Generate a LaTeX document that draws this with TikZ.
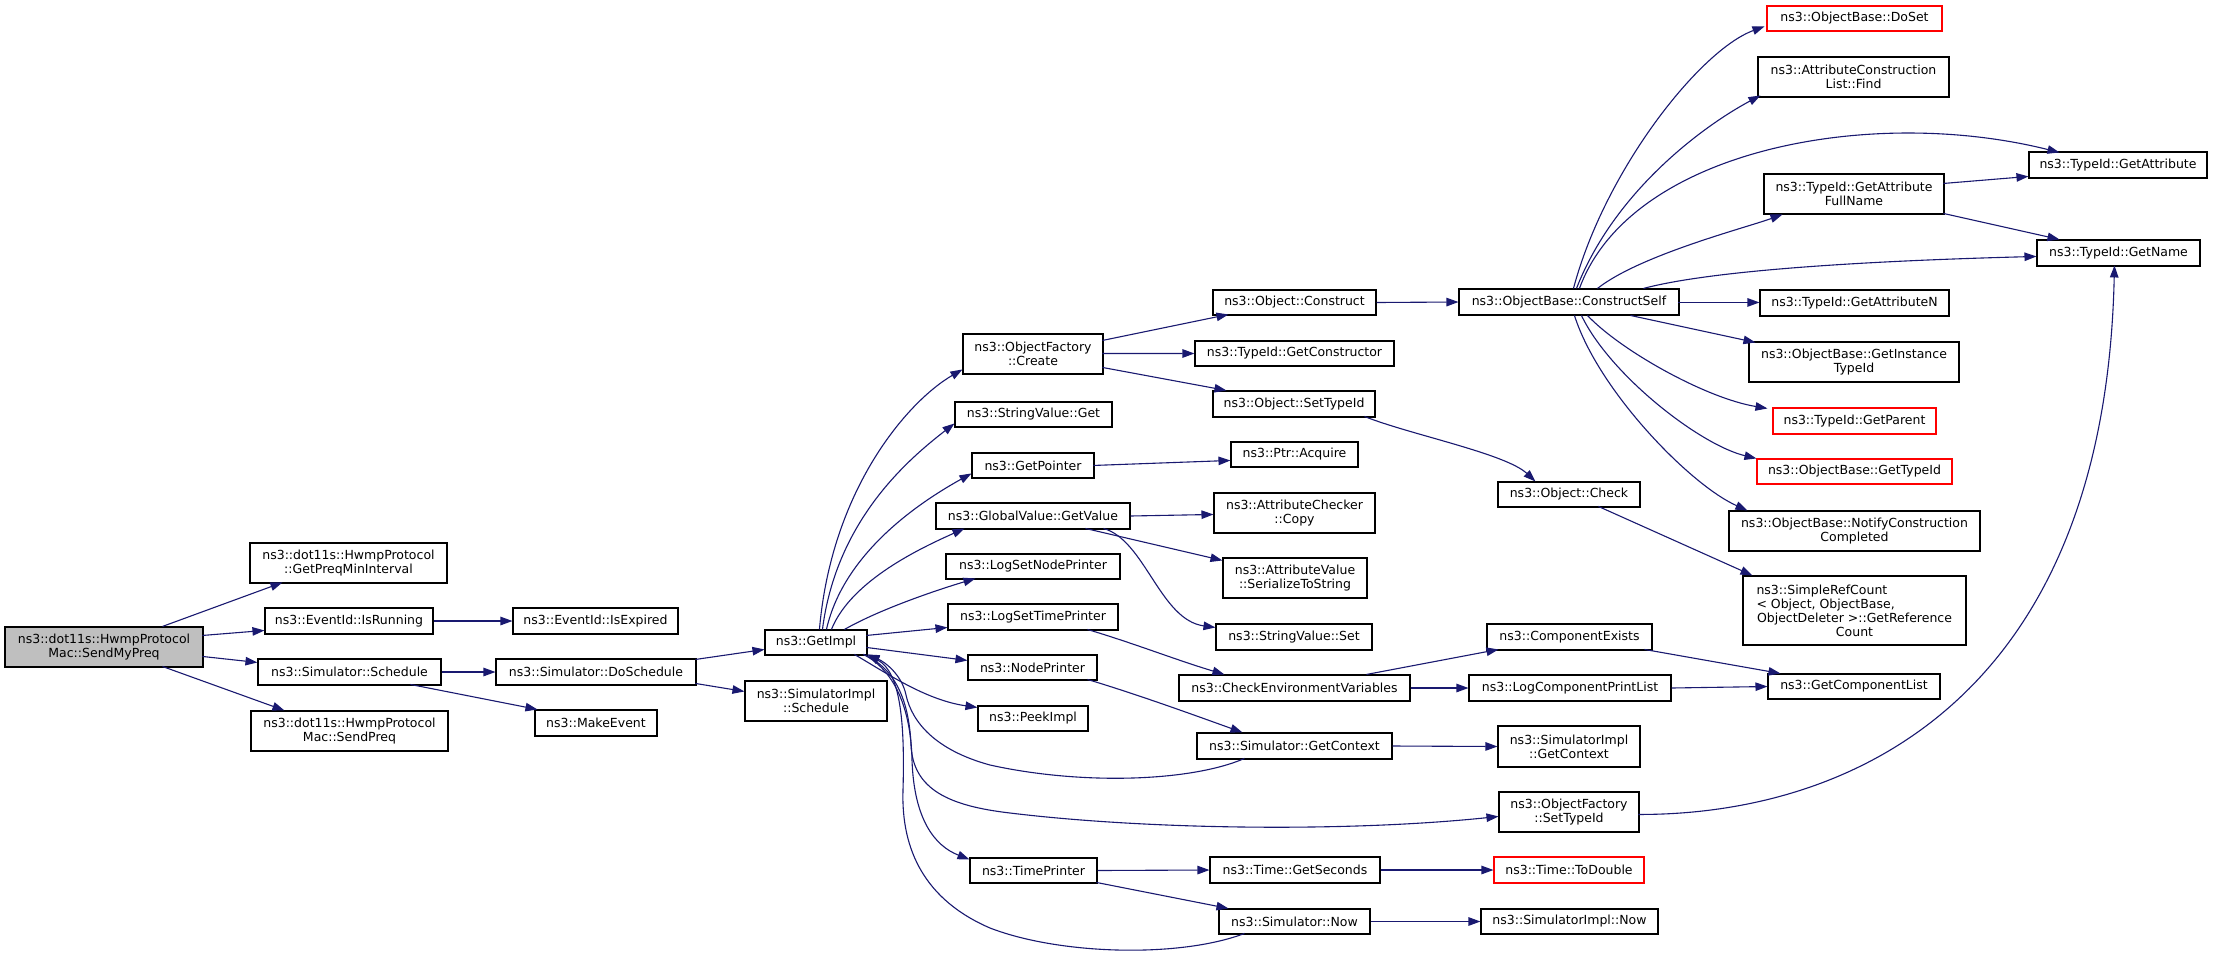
\documentclass[tikz,border=0pt]{standalone}
\usepackage{fontspec}
\setmainfont{DejaVu Sans}
\usetikzlibrary{arrows.meta,calc}
\definecolor{edgec}{HTML}{191970}
\definecolor{grayfill}{HTML}{BFBFBF}
\definecolor{redbox}{HTML}{FF0000}
\newcommand\bx[7]{\node[nd,#6,minimum width={#4-#2},minimum height={#5-#3}] (#1) at ({(#2+#4)/2},{(#3+#5)/2}) {#7};}
\begin{document}
\begin{tikzpicture}[x=1pt,y=-1pt,
  nd/.style={draw=black,line width=1.1pt,fill=white,inner sep=0pt,align=center,font=\fontsize{12.5}{14}\selectfont},
  rednd/.style={draw=redbox},
  graynd/.style={fill=grayfill},
  plainnd/.style={},
  cedge/.style={draw=edgec,line width=1.1pt,-{Triangle[length=12pt,width=8.5pt]}}]
\useasboundingbox[fill=white] (0,0) rectangle (2213,956);
% nodes
\bx{SendMyPreq}{5}{627}{203}{667}{graynd}{ns3::dot11s::HwmpProtocol\\Mac::SendMyPreq}
\bx{GPMI}{250}{543}{447}{583}{plainnd}{ns3::dot11s::HwmpProtocol\\::GetPreqMinInterval}
\bx{IsRunning}{265}{608}{433}{634}{plainnd}{ns3::EventId::IsRunning}
\bx{IsExpired}{513}{608}{678}{634}{plainnd}{ns3::EventId::IsExpired}
\bx{SchedSim}{258}{659}{441}{685}{plainnd}{ns3::Simulator::Schedule}
\bx{SendPreq}{251}{711}{448}{751}{plainnd}{ns3::dot11s::HwmpProtocol\\Mac::SendPreq}
\bx{DoSchedule}{496}{659}{696}{685}{plainnd}{ns3::Simulator::DoSchedule}
\bx{MakeEvent}{535}{710}{657}{736}{plainnd}{ns3::MakeEvent}
\bx{GetImpl}{765}{630}{867}{655}{plainnd}{ns3::GetImpl}
\bx{SimImplSched}{745}{681}{887}{721}{plainnd}{ns3::SimulatorImpl\\::Schedule}
\bx{OFCreate}{963}{334}{1103}{374}{plainnd}{ns3::ObjectFactory\\::Create}
\bx{SVGet}{955}{402}{1112}{427}{plainnd}{ns3::StringValue::Get}
\bx{GetPointer}{972}{453}{1094}{478}{plainnd}{ns3::GetPointer}
\bx{GVGetValue}{936}{503}{1130}{529}{plainnd}{ns3::GlobalValue::GetValue}
\bx{LogSetNodePrinter}{946}{554}{1120}{579}{plainnd}{ns3::LogSetNodePrinter}
\bx{LogSetTimePrinter}{948}{604}{1118}{630}{plainnd}{ns3::LogSetTimePrinter}
\bx{NodePrinter}{968}{655}{1097}{680}{plainnd}{ns3::NodePrinter}
\bx{PeekImpl}{978}{706}{1088}{731}{plainnd}{ns3::PeekImpl}
\bx{TimePrinter}{970}{858}{1097}{883}{plainnd}{ns3::TimePrinter}
\bx{ObjConstruct}{1213}{290}{1376}{315}{plainnd}{ns3::Object::Construct}
\bx{GetConstructor}{1195}{341}{1394}{366}{plainnd}{ns3::TypeId::GetConstructor}
\bx{ObjSetTypeId}{1213}{391}{1375}{417}{plainnd}{ns3::Object::SetTypeId}
\bx{PtrAcquire}{1231}{442}{1358}{467}{plainnd}{ns3::Ptr::Acquire}
\bx{ACCopy}{1214}{493}{1375}{533}{plainnd}{ns3::AttributeChecker\\::Copy}
\bx{AVSerialize}{1223}{558}{1367}{598}{plainnd}{ns3::AttributeValue\\::SerializeToString}
\bx{SVSet}{1216}{624}{1372}{650}{plainnd}{ns3::StringValue::Set}
\bx{CheckEnv}{1179}{675}{1410}{701}{plainnd}{ns3::CheckEnvironmentVariables}
\bx{SimGetContext}{1197}{733}{1392}{759}{plainnd}{ns3::Simulator::GetContext}
\bx{OFSetTypeId}{1499}{792}{1639}{832}{plainnd}{ns3::ObjectFactory\\::SetTypeId}
\bx{GetSeconds}{1210}{857}{1380}{883}{plainnd}{ns3::Time::GetSeconds}
\bx{SimNow}{1219}{909}{1370}{934}{plainnd}{ns3::Simulator::Now}
\bx{ConstructSelf}{1459}{289}{1679}{315}{plainnd}{ns3::ObjectBase::ConstructSelf}
\bx{ObjCheck}{1498}{482}{1640}{507}{plainnd}{ns3::Object::Check}
\bx{ComponentExists}{1487}{624}{1652}{650}{plainnd}{ns3::ComponentExists}
\bx{LogCompPrintList}{1469}{675}{1671}{701}{plainnd}{ns3::LogComponentPrintList}
\bx{SimImplGetContext}{1498}{726}{1640}{767}{plainnd}{ns3::SimulatorImpl\\::GetContext}
\bx{ToDouble}{1494}{857}{1644}{883}{rednd}{ns3::Time::ToDouble}
\bx{SimImplNow}{1481}{909}{1658}{934}{plainnd}{ns3::SimulatorImpl::Now}
\bx{DoSet}{1767}{6}{1942}{31}{rednd}{ns3::ObjectBase::DoSet}
\bx{ACLFind}{1758}{57}{1949}{97}{plainnd}{ns3::AttributeConstruction\\List::Find}
\bx{GetAttrFullName}{1764}{174}{1944}{214}{plainnd}{ns3::TypeId::GetAttribute\\FullName}
\bx{GetAttributeN}{1760}{290}{1949}{316}{plainnd}{ns3::TypeId::GetAttributeN}
\bx{GetInstanceTypeId}{1749}{342}{1959}{382}{plainnd}{ns3::ObjectBase::GetInstance\\TypeId}
\bx{GetParent}{1773}{408}{1936}{434}{rednd}{ns3::TypeId::GetParent}
\bx{GetTypeId}{1757}{459}{1952}{484}{rednd}{ns3::ObjectBase::GetTypeId}
\bx{NotifyCC}{1729}{511}{1980}{551}{plainnd}{ns3::ObjectBase::NotifyConstruction\\Completed}
\bx{SimpleRefCount}{1743}{576}{1966}{645}{plainnd}{\makebox[196pt][l]{ns3::SimpleRefCount}\\\makebox[196pt][l]{< Object, ObjectBase,}\\ObjectDeleter >::GetReference\\Count}
\bx{GetComponentList}{1768}{674}{1940}{699}{plainnd}{ns3::GetComponentList}
\bx{GetAttribute}{2029}{152}{2207}{178}{plainnd}{ns3::TypeId::GetAttribute}
\bx{GetName}{2037}{240}{2200}{266}{plainnd}{ns3::TypeId::GetName}
% edges
\draw[cedge] ($(SendMyPreq.north west)+(158,0)$) -- ($(GPMI.north west)+(33,40)$);
\draw[cedge] ($(SendMyPreq.north west)+(198,9)$) -- ($(IsRunning.north west)+(0,23)$);
\draw[cedge] ($(SendMyPreq.north west)+(198,30)$) -- ($(SchedSim.north west)+(0,4)$);
\draw[cedge] ($(SendMyPreq.north west)+(158,40)$) -- ($(SendPreq.north west)+(34,0)$);
\draw[cedge] (IsRunning.east) -- (IsExpired.west);
\draw[cedge] (SchedSim.east) -- (DoSchedule.west);
\draw[cedge] ($(SchedSim.north west)+(153,26)$) -- ($(MakeEvent.north west)+(3,0)$);
\draw[cedge] ($(DoSchedule.north west)+(200,1)$) -- ($(GetImpl.north west)+(0,20)$);
\draw[cedge] ($(DoSchedule.north west)+(200,25)$) -- ($(SimImplSched.north west)+(0,11)$);
\draw[cedge] ($(GetImpl.north west)+(55,0)$) .. controls +(12,-140) and +(-55,32) .. ($(OFCreate.north west)+(0,36)$);
\draw[cedge] ($(GetImpl.north west)+(58,0)$) .. controls +(14,-110) and +(-45,35) .. ($(SVGet.north west)+(0,22)$);
\draw[cedge] ($(GetImpl.north west)+(62,0)$) .. controls +(18,-80) and +(-45,25) .. ($(GetPointer.north west)+(0,21)$);
\draw[cedge] ($(GetImpl.north west)+(67,0)$) .. controls +(20,-50) and +(-40,18) .. ($(GVGetValue.north west)+(29,26)$);
\draw[cedge] ($(GetImpl.north west)+(80,0)$) .. controls +(35,-20) and +(-40,12) .. ($(LogSetNodePrinter.north west)+(30,25)$);
\draw[cedge] ($(GetImpl.north west)+(102,6)$) -- ($(LogSetTimePrinter.north west)+(0,24)$);
\draw[cedge] ($(GetImpl.north west)+(102,18)$) -- ($(NodePrinter.north west)+(0,6)$);
\draw[cedge] ($(GetImpl.north west)+(90,25)$) .. controls (885,672) and (925,700) .. ($(PeekImpl.north west)+(0,2)$);
\draw[cedge] ($(SimGetContext.north west)+(48,26)$) .. controls (1190,782) and (1080,785) .. (990,765) .. controls (935,750) and (912,722) .. (906,695) .. controls (902,675) and (885,662) .. ($(GetImpl.north west)+(103,25)$);
\draw[cedge] ($(SimNow.north west)+(26,25)$) .. controls (1180,958) and (1060,955) .. (990,928) .. controls (925,900) and (901,850) .. (903,790) .. controls (905,720) and (900,672) .. ($(GetImpl.north west)+(103,25)$);
\draw[cedge] ($(GetImpl.north west)+(99,25)$) .. controls (895,668) and (909,700) .. (911,745) .. controls (913,790) and (950,806) .. (1010,813) .. controls (1150,830) and (1350,832) .. ($(OFSetTypeId.north west)+(0,25)$);
\draw[cedge] ($(GetImpl.north west)+(99,25)$) .. controls (898,672) and (911,715) .. (912,760) .. controls (914,820) and (935,846) .. ($(TimePrinter.north west)+(0,2)$);
\draw[cedge] ($(OFCreate.north west)+(140,7)$) -- ($(ObjConstruct.north west)+(16,25)$);
\draw[cedge] ($(OFCreate.north west)+(140,20)$) -- (GetConstructor.west);
\draw[cedge] ($(OFCreate.north west)+(140,34)$) -- ($(ObjSetTypeId.north west)+(14,0)$);
\draw[cedge] (ObjConstruct.east) -- (ConstructSelf.west);
\draw[cedge] ($(ObjSetTypeId.north west)+(152,26)$) .. controls +(45,18) and +(-30,-28) .. ($(ObjCheck.north west)+(38,0)$);
\draw[cedge] ($(ObjCheck.north west)+(101,25)$) -- ($(SimpleRefCount.north west)+(10,0)$);
\draw[cedge] ($(GetPointer.north west)+(122,13)$) -- ($(PtrAcquire.north west)+(0,19)$);
\draw[cedge] (GVGetValue.east) -- ($(ACCopy.north west)+(0,22)$);
\draw[cedge] ($(GVGetValue.north west)+(150,26)$) -- ($(AVSerialize.north west)+(0,3)$);
\draw[cedge] ($(GVGetValue.north west)+(168,26)$) .. controls (1145,540) and (1160,620) .. ($(SVSet.north west)+(0,4)$);
\draw[cedge] ($(LogSetTimePrinter.north west)+(140,26)$) .. controls +(50,15) and +(-50,-15) .. ($(CheckEnv.north west)+(46,0)$);
\draw[cedge] ($(NodePrinter.north west)+(120,25)$) .. controls +(50,15) and +(-50,-18) .. ($(SimGetContext.north west)+(46,0)$);
\draw[cedge] ($(CheckEnv.north west)+(188,0)$) -- ($(ComponentExists.north west)+(12,26)$);
\draw[cedge] (CheckEnv.east) -- (LogCompPrintList.west);
\draw[cedge] ($(ComponentExists.north west)+(158,26)$) -- ($(GetComponentList.north west)+(13,0)$);
\draw[cedge] (LogCompPrintList.east) -- (GetComponentList.west);
\draw[cedge] (SimGetContext.east) -- (SimImplGetContext.west);
\draw[cedge] ($(OFSetTypeId.north west)+(140,23)$) .. controls (1850,815) and (2105,700) .. ($(GetName.north west)+(78,26)$);
\draw[cedge] (TimePrinter.east) -- (GetSeconds.west);
\draw[cedge] (GetSeconds.east) -- (ToDouble.west);
\draw[cedge] ($(TimePrinter.north west)+(127,25)$) -- ($(SimNow.north west)+(10,0)$);
\draw[cedge] (SimNow.east) -- (SimImplNow.west);
\draw[cedge] ($(ConstructSelf.north west)+(115,0)$) .. controls (1605,170) and (1700,50) .. ($(DoSet.north west)+(-2,21)$);
\draw[cedge] ($(ConstructSelf.north west)+(118,0)$) .. controls (1615,190) and (1705,125) .. ($(ACLFind.north west)+(3,39)$);
\draw[cedge] ($(ConstructSelf.north west)+(121,0)$) .. controls (1630,150) and (1870,105) .. ($(GetAttribute.north west)+(31,1)$);
\draw[cedge] ($(ConstructSelf.north west)+(139,0)$) .. controls (1640,255) and (1745,228) .. ($(GetAttrFullName.north west)+(19,41)$);
\draw[cedge] ($(ConstructSelf.north west)+(185,0)$) .. controls (1720,268) and (1900,260) .. ($(GetName.north west)+(0,17)$);
\draw[cedge] ($(ConstructSelf.north west)+(220,14)$) -- ($(GetAttributeN.north west)+(0,13)$);
\draw[cedge] ($(ConstructSelf.north west)+(172,27)$) -- ($(GetInstanceTypeId.north west)+(7,1)$);
\draw[cedge] ($(ConstructSelf.north west)+(129,27)$) .. controls (1620,350) and (1705,398) .. ($(GetParent.north west)+(-5,1)$);
\draw[cedge] ($(ConstructSelf.north west)+(123,27)$) .. controls (1610,375) and (1700,445) .. ($(GetTypeId.north west)+(0,0)$);
\draw[cedge] ($(ConstructSelf.north west)+(116,27)$) .. controls (1598,390) and (1690,485) .. ($(NotifyCC.north west)+(19,0)$);
\draw[cedge] ($(GetAttrFullName.north west)+(180,10)$) -- ($(GetAttribute.north west)+(0,25)$);
\draw[cedge] ($(GetAttrFullName.north west)+(180,40)$) -- ($(GetName.north west)+(23,0)$);
\end{tikzpicture}
\end{document}
